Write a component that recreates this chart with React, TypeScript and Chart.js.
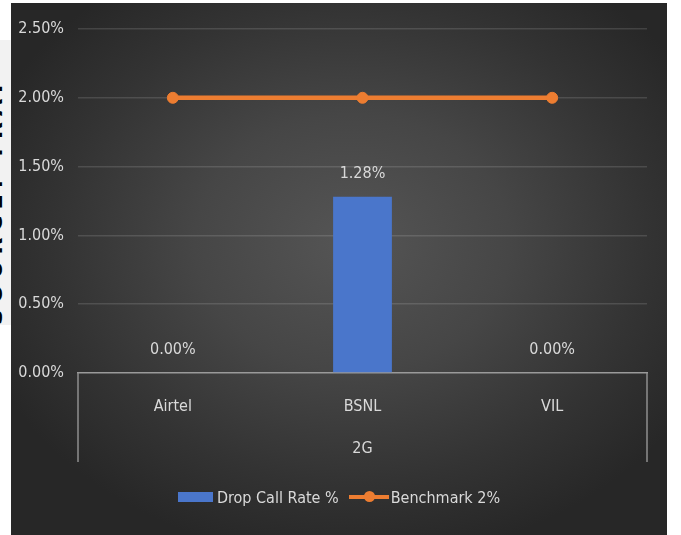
import React, { useEffect, useRef } from "react";
import { Chart, registerables } from "chart.js";
Chart.register(...registerables);

const categories = ["Airtel", "BSNL", "VIL"];
const groupLabel = "2G";
const dropCallRate = [0.0, 1.28, 0.0];
const benchmark = [2.0, 2.0, 2.0];
const seriesNames = ["Drop Call Rate %", "Benchmark 2%"];
const yMin = 0;
const yMax = 2.5;
const yStep = 0.5;

const FONT = '"Liberation Sans Narrow", "DejaVu Sans Condensed", "Noto Sans", sans-serif';
const TEXT = "#d9d9d9";
const BLUE = "#4a76cb";
const ORANGE = "#ED7D31";

const pct = (v: number) => v.toFixed(2) + "%";

const extras = {
  id: "extras",
  afterDatasetsDraw(chart: any) {
    const { ctx, chartArea, scales } = chart;
    const xs = scales.x;
    ctx.save();
    ctx.strokeStyle = "#8f8f8f";
    ctx.lineWidth = 1.5;
    [chartArea.left, chartArea.right].forEach((px: number) => {
      ctx.beginPath();
      ctx.moveTo(px, chartArea.bottom);
      ctx.lineTo(px, xs.bottom);
      ctx.stroke();
    });
    const meta = chart.getDatasetMeta(1);
    ctx.fillStyle = TEXT;
    ctx.font = `16px ${FONT}`;
    ctx.textAlign = "center";
    ctx.textBaseline = "middle";
    meta.data.forEach((el: any, i: number) => {
      ctx.fillText(pct(dropCallRate[i]), el.x, el.y - 23);
    });
    ctx.restore();
  },
};

export default function App() {
  const ref = useRef<HTMLCanvasElement | null>(null);
  useEffect(() => {
    if (!ref.current) return;
    const chart = new Chart(ref.current, {
      type: "bar",
      data: {
        labels: categories,
        datasets: [
          {
            type: "line",
            label: seriesNames[1],
            data: benchmark,
            borderColor: ORANGE,
            backgroundColor: ORANGE,
            borderWidth: 4.5,
            pointRadius: 5.5,
            pointBorderWidth: 1,
            pointBackgroundColor: ORANGE,
            pointBorderColor: ORANGE,
            order: 0,
          } as any,
          {
            type: "bar",
            label: seriesNames[0],
            data: dropCallRate,
            backgroundColor: BLUE,
            barPercentage: 0.62,
            categoryPercentage: 0.5,
            order: 1,
          },
        ],
      },
      options: {
        responsive: false,
        animation: false,
        layout: { padding: { top: 26, right: 20, bottom: 73, left: 0 } },
        plugins: { legend: { display: false }, tooltip: { enabled: false } },
        scales: {
          x: {
            offset: true,
            grid: { display: false },
            border: { display: true, color: "#9a9a9a", width: 1.5 },
            ticks: { color: TEXT, font: { family: FONT, size: 16 }, padding: 16 },
            title: {
              display: true,
              text: groupLabel,
              color: TEXT,
              font: { family: FONT, size: 16 },
              padding: { top: 0, bottom: 4 },
            },
            afterFit: (s: any) => {
              s.height = 89;
            },
          },
          y: {
            min: yMin,
            max: yMax,
            ticks: {
              stepSize: yStep,
              color: TEXT,
              font: { family: FONT, size: 16 },
              padding: 14,
              callback: (v: any) => pct(Number(v)),
            },
            grid: {
              color: (c: any) => (c.tick && c.tick.value === 0 ? "rgba(0,0,0,0)" : "rgba(255,255,255,0.13)"),
              lineWidth: 1.5,
              drawTicks: false,
            },
            border: { display: false },
            afterFit: (s: any) => {
              s.width = 67;
            },
          },
        },
      },
      plugins: [extras],
    });
    return () => chart.destroy();
  }, []);

  return (
    <div style={{ position: "fixed", left: 0, top: 0, width: 681, height: 535, background: "#ffffff", overflow: "hidden" }}>
      <div style={{ position: "absolute", left: 0, top: 40, width: 11, height: 285, background: "#f2f2f2", overflow: "hidden" }}>
        <div
          style={{
            position: "absolute",
            left: -13,
            top: 0,
            width: 285,
            height: 16,
            transformOrigin: "0 0",
            transform: "translate(0px, 285px) rotate(-90deg)",
            fontFamily: "DejaVu Sans, sans-serif",
            fontWeight: "bold",
            fontSize: 22,
            lineHeight: "16px",
            color: "#000",
            whiteSpace: "nowrap",
            letterSpacing: 6,
          }}
        >
          SOURCE: TRAI
        </div>
      </div>
      <div
        style={{
          position: "absolute",
          left: 11,
          top: 3,
          width: 656,
          height: 532,
          background: "radial-gradient(ellipse 60% 60% at 52% 45%, #555555 0%, #464646 40%, #333333 75%, #272727 100%)",
        }}
      >
        <canvas ref={ref} width={656} height={532} style={{ display: "block" }} />
        <div
          style={{
            position: "absolute",
            left: 0,
            top: 484,
            width: 656,
            height: 20,
            display: "flex",
            justifyContent: "center",
            alignItems: "center",
            fontFamily: FONT,
            fontSize: 16,
            color: TEXT,
          }}
        >
          <span style={{ display: "inline-block", width: 35, height: 10, background: BLUE, marginRight: 4 }} />
          <span>{seriesNames[0]}</span>
          <span style={{ position: "relative", display: "inline-block", width: 40, height: 4, background: ORANGE, marginLeft: 10, marginRight: 2 }}>
            <span
              style={{
                position: "absolute",
                left: 15,
                top: -4,
                width: 11,
                height: 11,
                borderRadius: "50%",
                background: ORANGE,
              }}
            />
          </span>
          <span>{seriesNames[1]}</span>
        </div>
      </div>
    </div>
  );
}
